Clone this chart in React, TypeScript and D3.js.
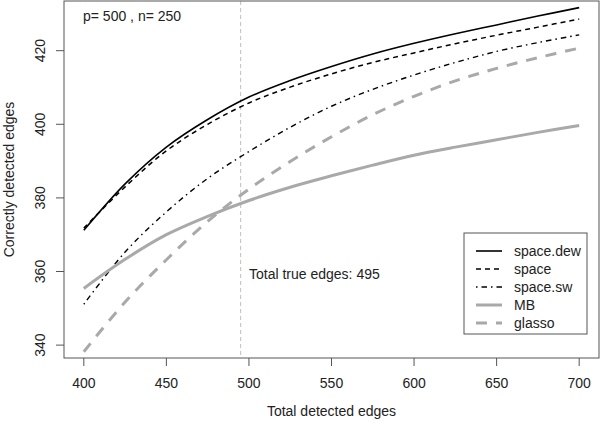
import React from 'react';
import * as d3 from 'd3';

const edges = [400, 425, 450, 475, 500, 525, 550, 575, 600, 625, 650, 675, 700];
const spaceDew = [371.2, 383.8, 393.8, 401.3, 407.4, 411.9, 415.7, 419.1, 422.0, 424.6, 427.0, 429.4, 431.7];
const space = [371.8, 383.0, 392.8, 400.0, 405.8, 410.1, 413.7, 416.8, 419.4, 421.9, 424.2, 426.4, 428.6];
const spaceSw = [351.1, 365.3, 376.2, 385.3, 392.6, 399.2, 404.9, 409.5, 413.4, 416.8, 419.8, 422.2, 424.3];
const mb = [355.4, 363.3, 370.0, 375.0, 379.3, 382.9, 386.0, 388.9, 391.6, 393.8, 395.8, 397.8, 399.7];
const glasso = [338.2, 351.7, 363.2, 373.6, 382.4, 389.9, 396.6, 402.6, 407.6, 411.8, 415.2, 418.1, 420.7];

const xTicks = [400, 450, 500, 550, 600, 650, 700];
const yTicks = [340, 360, 380, 400, 420];
const trueEdges = 495;

const series = [
  { name: 'space.dew', values: spaceDew, color: '#000', width: 1.6, dash: null },
  { name: 'space', values: space, color: '#000', width: 1.5, dash: '5,4' },
  { name: 'space.sw', values: spaceSw, color: '#000', width: 1.4, dash: '1.5,4,5.5,4' },
  { name: 'MB', values: mb, color: '#a9a9a9', width: 3, dash: null },
  { name: 'glasso', values: glasso, color: '#a9a9a9', width: 3, dash: '11,9' },
];

const W = 600;
const H = 425;
const box = { left: 64, right: 599, top: 1, bottom: 358 };
const font = 'Liberation Sans, Arial, Helvetica, sans-serif';
const fs = 14;

export default function App() {
  const x = d3.scaleLinear().domain([388, 712]).range([box.left, box.right]);
  const y = d3.scaleLinear().domain([336.5, 433.5]).range([box.bottom, box.top]);

  const line = d3
    .line<number>()
    .x((_, i) => x(edges[i]))
    .y(d => y(d))
    .curve(d3.curveCatmullRom.alpha(0.5));

  return (
    <svg width={W} height={H} style={{ position: 'absolute', left: 0, top: 0, background: '#fff' }}>
      <rect x={0} y={0} width={W} height={H} fill="#fff" />
      {/* true edges marker */}
      <line
        x1={x(trueEdges)}
        x2={x(trueEdges)}
        y1={box.top}
        y2={box.bottom}
        stroke="#bdbdbd"
        strokeWidth={1}
        strokeDasharray="4,3"
      />
      {series.map(s => (
        <path
          key={s.name}
          d={line(s.values) || ''}
          fill="none"
          stroke={s.color}
          strokeWidth={s.width}
          strokeDasharray={s.dash || undefined}
        />
      ))}
      <rect
        x={box.left}
        y={box.top}
        width={box.right - box.left}
        height={box.bottom - box.top}
        fill="none"
        stroke="#555"
        strokeWidth={1}
      />
      {/* x axis */}
      {xTicks.map(t => (
        <g key={t}>
          <line x1={x(t)} x2={x(t)} y1={box.bottom} y2={box.bottom + 8} stroke="#555" />
          <text x={x(t)} y={388} textAnchor="middle" fontSize={fs} fontFamily={font} fill="#222">
            {t}
          </text>
        </g>
      ))}
      {/* y axis */}
      {yTicks.map(t => (
        <g key={t}>
          <line x1={box.left - 8} x2={box.left} y1={y(t)} y2={y(t)} stroke="#555" />
          <text
            transform={`translate(45, ${y(t)}) rotate(-90)`}
            textAnchor="middle"
            fontSize={fs}
            fontFamily={font}
            fill="#222"
          >
            {t}
          </text>
        </g>
      ))}
      <text x={(box.left + box.right) / 2} y={416} textAnchor="middle" fontSize={fs} fontFamily={font} fill="#222">
        Total detected edges
      </text>
      <text
        transform={`translate(14, ${(box.top + box.bottom) / 2}) rotate(-90)`}
        textAnchor="middle"
        fontSize={fs}
        fontFamily={font}
        fill="#222"
      >
        Correctly detected edges
      </text>
      <text x={83} y={21} fontSize={fs} fontFamily={font} fill="#222">
        p= 500 , n= 250
      </text>
      <text x={249} y={279} fontSize={fs} fontFamily={font} fill="#222">
        Total true edges: 495
      </text>
      {/* legend */}
      <g>
        <rect x={464} y={233} width={123} height={101} fill="#fff" stroke="#555" />
        {series.map((s, i) => (
          <g key={s.name} transform={`translate(0, ${251 + i * 18})`}>
            <line
              x1={476}
              x2={502}
              y1={0}
              y2={0}
              stroke={s.color}
              strokeWidth={s.width}
              strokeDasharray={s.dash || undefined}
            />
            <text x={514} y={5} fontSize={fs} fontFamily={font} fill="#222">
              {s.name}
            </text>
          </g>
        ))}
      </g>
    </svg>
  );
}
